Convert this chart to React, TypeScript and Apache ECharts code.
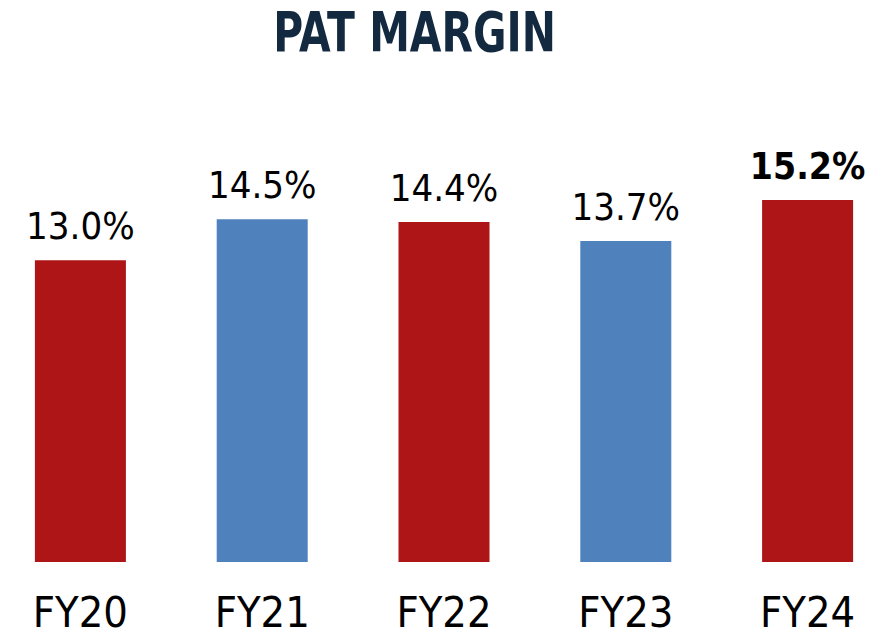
import React, { useEffect, useRef } from "react";
import * as echarts from "echarts";

const categories = ["FY20", "FY21", "FY22", "FY23", "FY24"];
const values = [13.0, 14.5, 14.4, 13.7, 15.2];
const barColors = ["#AE1517", "#4F81BD", "#AE1517", "#4F81BD", "#AE1517"];
const boldLabel = [false, false, false, false, true];
const title = "PAT MARGIN";

const FONT = '"DejaVu Sans Condensed", "DejaVu Sans", sans-serif';

export default function App() {
  const ref = useRef<HTMLDivElement>(null);
  useEffect(() => {
    if (!ref.current) return;
    const chart = echarts.init(ref.current, undefined, { renderer: "svg" });
    chart.setOption({
      animation: false,
      backgroundColor: "#ffffff",
      graphic: [
        {
          type: "text",
          x: 414.5,
          y: 32,
          scaleX: 0.826,
          style: {
            text: title,
            fontFamily: FONT,
            fontWeight: "bold",
            fontSize: 55,
            fill: "#12293F",
            textAlign: "center",
            textVerticalAlign: "middle",
          },
        },
      ],
      grid: { left: -10.5, width: 909, top: 178, height: 384, outerBoundsMode: "none", containLabel: false },
      xAxis: {
        type: "category",
        data: categories,
        axisLine: { show: false },
        axisTick: { show: false },
        axisLabel: {
          fontFamily: FONT,
          fontSize: 43,
          color: "#000000",
          margin: 28,
        },
      },
      yAxis: {
        type: "value",
        min: 2,
        max: 16,
        show: false,
        splitLine: { show: false },
      },
      series: [
        {
          type: "bar",
          barWidth: 91,
          data: values.map((v, i) => ({
            value: v,
            itemStyle: { color: barColors[i] },
            label: {
              show: true,
              position: "top",
              distance: 15,
              formatter: (p: any) => p.value.toFixed(1) + "%",
              fontFamily: FONT,
              fontSize: boldLabel[i] ? 37 : 38,
              fontWeight: boldLabel[i] ? "bold" : "normal",
              color: "#000000",
            },
          })),
        },
      ],
    });
    return () => chart.dispose();
  }, []);
  return (
    <div
      ref={ref}
      style={{ position: "absolute", left: 0, top: 0, width: 877, height: 637 }}
    />
  );
}
